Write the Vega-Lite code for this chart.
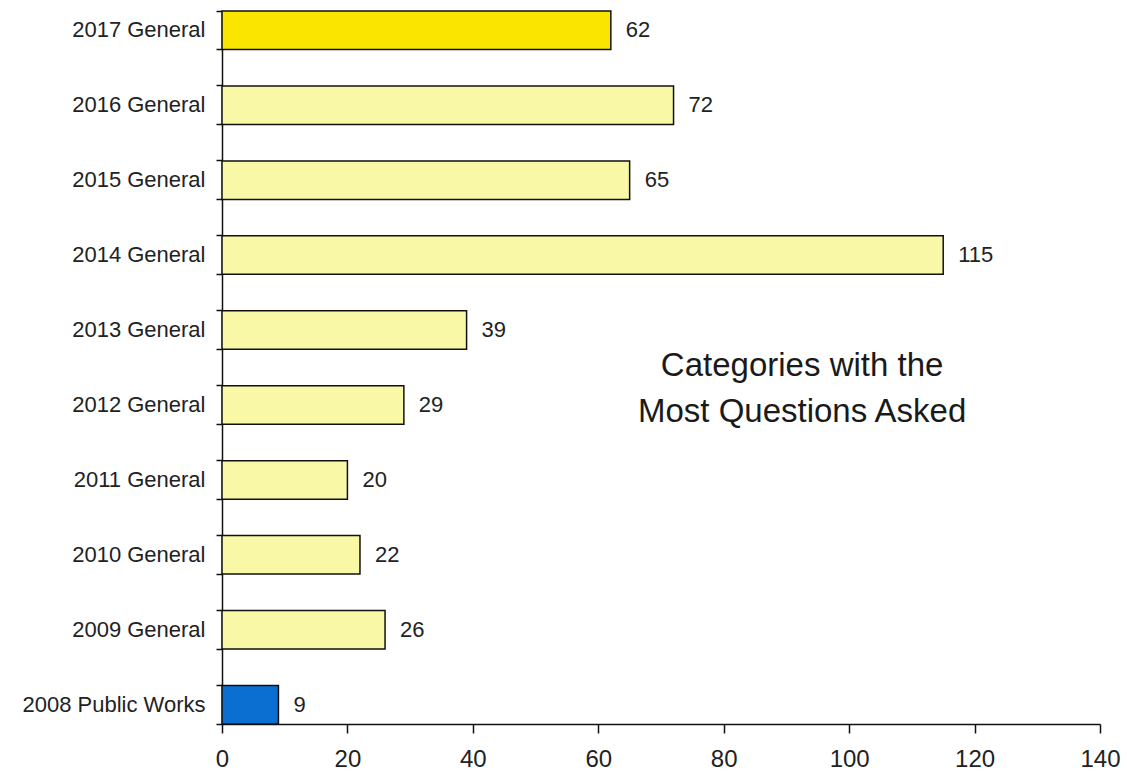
{
  "$schema": "https://vega.github.io/schema/vega-lite/v6.json",
  "width": 878,
  "height": 713,
  "autosize": {"type": "none"},
  "padding": {"left": 222, "top": 11, "right": 27, "bottom": 47},
  "background": "white",
  "config": {"view": {"stroke": null}, "font": "Liberation Sans"},
  "data": {
    "values": [
      {"category": "2017 General", "questions": 62},
      {"category": "2016 General", "questions": 72},
      {"category": "2015 General", "questions": 65},
      {"category": "2014 General", "questions": 115},
      {"category": "2013 General", "questions": 39},
      {"category": "2012 General", "questions": 29},
      {"category": "2011 General", "questions": 20},
      {"category": "2010 General", "questions": 22},
      {"category": "2009 General", "questions": 26},
      {"category": "2008 Public Works", "questions": 9}
    ]
  },
  "layer": [
    {
      "mark": {"type": "bar", "stroke": "#111111", "strokeWidth": 1.5},
      "encoding": {
        "y": {
          "field": "category",
          "type": "nominal",
          "sort": null,
          "scale": {"paddingInner": 0.486, "paddingOuter": 0},
          "axis": {
            "title": null,
            "orient": "left",
            "ticks": false,
            "labelPadding": 17,
            "labelFontSize": 22,
            "labelLimit": 400,
            "labelColor": "#222222",
            "domainColor": "#111111",
            "domainWidth": 1.5
          }
        },
        "x": {
          "field": "questions",
          "type": "quantitative",
          "scale": {"domain": [0, 140], "nice": false},
          "axis": {
            "title": null,
            "grid": false,
            "values": [0, 20, 40, 60, 80, 100, 120, 140],
            "tickSize": 9,
            "tickColor": "#111111",
            "tickWidth": 1.5,
            "domainColor": "#111111",
            "domainWidth": 1.5,
            "labelFontSize": 24,
            "labelPadding": 14,
            "labelColor": "#222222",
            "labelFlush": false
          }
        },
        "color": {
          "condition": [
            {"test": "datum.category === '2017 General'", "value": "#F9E500"},
            {"test": "datum.category === '2008 Public Works'", "value": "#0A6FD0"}
          ],
          "value": "#F8F8A6"
        }
      }
    },
    {
      "mark": {"type": "text", "align": "left", "baseline": "middle", "dx": 15, "fontSize": 22, "color": "#222222"},
      "encoding": {
        "y": {
          "field": "category",
          "type": "nominal",
          "sort": null,
          "axis": {
            "title": null,
            "orient": "left",
            "labels": false,
            "domain": false,
            "bandPosition": 0,
            "tickSize": 6,
            "tickColor": "#111111",
            "tickWidth": 1.5
          }
        },
        "x": {"field": "questions", "type": "quantitative"},
        "text": {"field": "questions", "type": "quantitative"}
      }
    },
    {
      "data": {"values": [{"xpos": 92.5, "cat": "2012 General", "label": ["Categories with the", "Most Questions Asked"]}]},
      "mark": {"type": "text", "align": "center", "baseline": "middle", "dy": -39, "fontSize": 33, "lineHeight": 46, "color": "#1a1a1a"},
      "encoding": {
        "y": {
          "field": "cat",
          "type": "nominal",
          "sort": null,
          "axis": {
            "title": null,
            "orient": "left",
            "labels": false,
            "domain": false,
            "bandPosition": 1,
            "tickSize": 6,
            "tickColor": "#111111",
            "tickWidth": 1.5
          }
        },
        "x": {"field": "xpos", "type": "quantitative"},
        "text": {"field": "label"}
      }
    }
  ],
  "resolve": {"axis": {"y": "independent"}}
}
